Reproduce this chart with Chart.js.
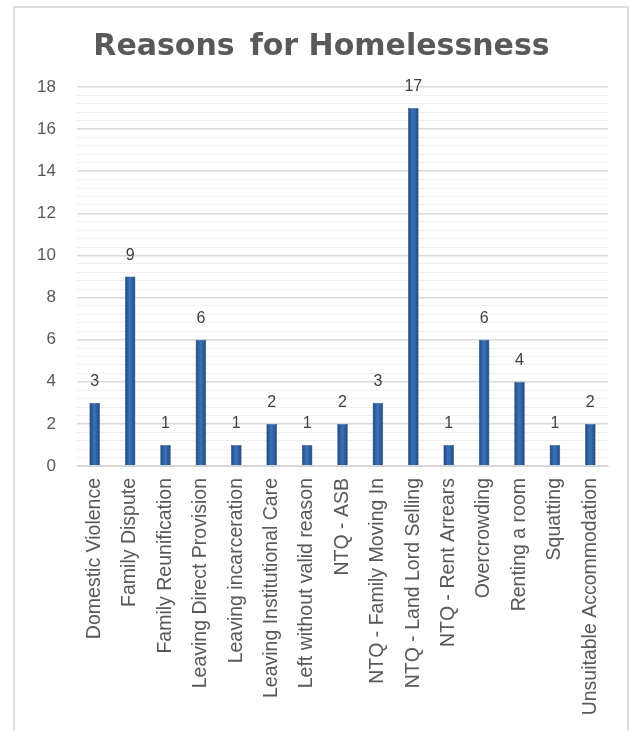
<!DOCTYPE html>
<html>
<head>
<meta charset="utf-8">
<title>Reasons for Homelessness</title>
<script src="https://cdn.jsdelivr.net/npm/chart.js@4.4.1/dist/chart.umd.min.js"></script>
<style>
  html, body { margin: 0; padding: 0; background: #fff; overflow: hidden; }
  #frame {
    position: absolute; left: 13px; top: 6px; width: 616px; height: 760px;
    border: 2px solid #dedede; box-sizing: border-box;
  }
  #chart { position: absolute; left: 0; top: 0; }
</style>
</head>
<body>
<div id="frame"></div>
<canvas id="chart" width="643" height="731"></canvas>
<script>
// Reasons for Homelessness - bar chart
const categories = [
  'Domestic Violence', 'Family Dispute', 'Family Reunification',
  'Leaving Direct Provision', 'Leaving incarceration', 'Leaving Institutional Care',
  'Left without valid reason', 'NTQ - ASB', 'NTQ - Family Moving In',
  'NTQ - Land Lord Selling', 'NTQ - Rent Arrears', 'Overcrowding',
  'Renting a room', 'Squatting', 'Unsuitable Accommodation'
];
const counts = [3, 9, 1, 6, 1, 2, 1, 2, 3, 17, 1, 6, 4, 1, 2];
const yMin = 0;
const yMax = 18;
const yMajorStep = 2;
const yMinorStep = 0.4;

const textGrey = '#595959';

function isMajor(v) {
  return Math.abs(v / yMajorStep - Math.round(v / yMajorStep)) < 1e-6;
}

// horizontal shading on each bar, like the Excel style
function barFill(ctx) {
  const chart = ctx.chart;
  const xs = chart.scales && chart.scales.x;
  if (!xs || !chart.chartArea || ctx.dataIndex === undefined) return '#2d5f9e';
  const cx = xs.getPixelForValue(ctx.dataIndex);
  const half = 6;
  const g = chart.ctx.createLinearGradient(cx - half, 0, cx + half, 0);
  g.addColorStop(0, '#1b3f70');
  g.addColorStop(0.45, '#3a72b8');
  g.addColorStop(0.6, '#3469ac');
  g.addColorStop(1, '#1b3f70');
  return g;
}

const valueLabels = {
  id: 'valueLabels',
  afterDatasetsDraw(chart) {
    const c = chart.ctx;
    const meta = chart.getDatasetMeta(0);
    c.save();
    c.font = '16px "Liberation Sans", Arial, sans-serif';
    c.fillStyle = '#404040';
    c.textAlign = 'center';
    c.textBaseline = 'middle';
    meta.data.forEach((bar, i) => {
      c.fillText(String(counts[i]), bar.x, bar.y - 21);
    });
    c.restore();
  }
};

new Chart(document.getElementById('chart'), {
  type: 'bar',
  data: {
    labels: categories,
    datasets: [{
      data: counts,
      backgroundColor: barFill,
      borderColor: '#1d4373',
      borderWidth: 0.5,
      barPercentage: 0.3,
      categoryPercentage: 1
    }]
  },
  options: {
    responsive: false,
    devicePixelRatio: 1,
    animation: false,
    layout: { padding: { left: 35, right: 35, top: 0, bottom: 0 } },
    plugins: {
      legend: { display: false },
      tooltip: { enabled: false },
      title: {
        display: true,
        text: 'Reasons\u2002for Homelessness',
        color: textGrey,
        font: { family: '"DejaVu Sans", sans-serif', size: 30, weight: 'bold' },
        padding: { top: 29, bottom: 22 }
      }
    },
    scales: {
      x: {
        grid: { display: false, drawTicks: false },
        border: { display: true, color: '#d4d4d4' },
        ticks: {
          color: textGrey,
          font: { family: '"Liberation Sans", Arial, sans-serif', size: 19.5 },
          minRotation: 90,
          maxRotation: 90,
          autoSkip: false,
          padding: 12
        },
        afterFit(scale) { scale.height = 265; }
      },
      y: {
        min: yMin,
        max: yMax,
        grid: {
          drawTicks: false,
          color: (ctx) => isMajor(ctx.tick.value) ? '#d9d9d9' : '#efefef',
          lineWidth: (ctx) => isMajor(ctx.tick.value) ? 1.5 : 1
        },
        border: { display: false },
        ticks: {
          stepSize: yMinorStep,
          autoSkip: false,
          padding: 21,
          color: textGrey,
          font: { family: '"Liberation Sans", Arial, sans-serif', size: 17 },
          callback: (v) => isMajor(v) ? String(Math.round(v)) : ''
        },
        afterFit(scale) { scale.width = 42; }
      }
    }
  },
  plugins: [valueLabels]
});
</script>
</body>
</html>
